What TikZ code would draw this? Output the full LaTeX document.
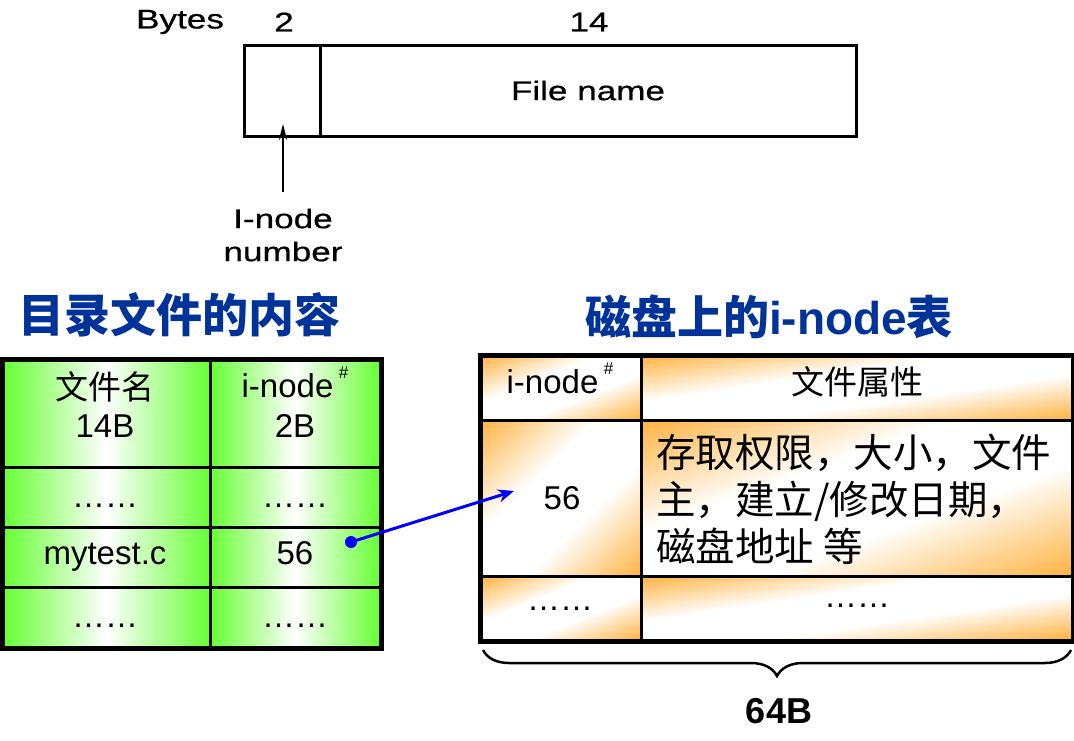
\documentclass[tikz,border=0pt]{standalone}
\usepackage{fontspec}
\setmainfont{Liberation Sans}
\newfontfamily\cjk{Noto Sans CJK SC}
\newfontfamily\scanf[FakeStretch=1.3,FakeBold=0.6]{Liberation Sans}
\usetikzlibrary{arrows.meta,decorations.pathreplacing}
\definecolor{gr}{RGB}{102,255,51}
\definecolor{orn}{RGB}{255,153,0}
\definecolor{ttl}{RGB}{0,51,153}
\definecolor{arr}{RGB}{0,0,255}
\pgfdeclareverticalshading{orncell}{100bp}{color(0bp)=(orn); color(6bp)=(orn); color(40bp)=(white); color(60bp)=(white); color(94bp)=(orn); color(100bp)=(orn)}
\newcommand\fsz[2]{\fontsize{#1}{#2}\selectfont}
\newcommand\ihash{i-node\,\raisebox{0.55em}{\fsz{17}{17}\#}}
\newcommand\dotsrow{\smash{\raisebox{-7pt}{……}}}
% orange diagonal shading of a cell given by x0,y0,x1,y1 (y downwards)
\newcommand\oshade[4]{\begin{scope}[transform canvas={shift={(#1,#4)},xscale={(#3-#1)/100},yscale={(#4-#2)/100}}]
  \shade[shading=orncell,shading angle=45] (0pt,0pt) rectangle (100pt,100pt);\end{scope}}
\begin{document}
\begin{tikzpicture}[x=1pt,y=-1pt,
  topcell/.style={draw,line width=3pt,minimum height=91pt,inner sep=0pt},
  scan/.style={font=\scanf\fsz{27}{33},align=center,inner sep=0pt},
  gcell/.style={draw,line width=3pt,left color=gr,right color=gr,middle color=white,inner sep=0pt},
  ocell/.style={draw,line width=3pt,inner sep=0pt},
  txt/.style={font=\fsz{33}{40},inner sep=0pt},
  ctxt/.style={font=\cjk\fsz{33}{40},inner sep=0pt},
  ttlnode/.style={text=ttl,font=\cjk\bfseries\fsz{46}{50},inner sep=0pt},
  link/.style={draw=arr,line width=3pt,-{Stealth[length=16pt,width=13pt]}},
]
\useasboundingbox (0,0) rectangle (1074,740);
% ---------- top: directory entry layout ----------
\node[topcell,minimum width=76pt] (inum) at (282,90.5) {};
\node[topcell,minimum width=536pt,scan] (fname) at (588,90.5) {File name};
\node[scan] (bytes) at (180,22) {Bytes};
\node[scan] (b2) at (284,22) {2};
\node[scan] (b14) at (589,22) {14};
\node[scan] (inlbl) at (283,235) {I-node\\number};
\coordinate (arS) at (283,192);
\coordinate (arT) at (283,124);
\draw[line width=1.8pt,-{Stealth[length=16pt,width=8pt]}] (arS) -- (arT);
% ---------- titles ----------
\node[ttlnode] (t1) at (180,315) {目录文件的内容};
\node[ttlnode] (t2) at (769,317) {磁盘上的{\rmfamily i-node}表};
% ---------- left table ----------
\node[gcell,minimum width=207pt,minimum height=107pt] (l11) at (106.5,413.5) {};
\node[gcell,minimum width=170pt,minimum height=107pt] (l12) at (295,413.5) {};
\node[gcell,minimum width=207pt,minimum height=60pt] (l21) at (106.5,497) {};
\node[gcell,minimum width=170pt,minimum height=60pt] (l22) at (295,497) {};
\node[gcell,minimum width=207pt,minimum height=60pt] (l31) at (106.5,557) {};
\node[gcell,minimum width=170pt,minimum height=60pt] (l32) at (295,557) {};
\node[gcell,minimum width=207pt,minimum height=60pt] (l41) at (106.5,617) {};
\node[gcell,minimum width=170pt,minimum height=60pt] (l42) at (295,617) {};
\draw[line width=4pt] (l11.north west) rectangle (l42.south east);
\node[ctxt] (fnm) at (105,387) {文件名};
\node[txt,anchor=base] (fnb) at (105,437) {14B};
\node[txt,anchor=base] (inh) at (295,397) {\ihash};
\node[txt,anchor=base] (inb) at (295,437) {2B};
\node[txt,anchor=base] (d21) at (105,500) {\dotsrow};
\node[txt,anchor=base] (d22) at (295,500) {\dotsrow};
\node[txt,anchor=base] (myt) at (105,564) {mytest.c};
\node[txt,anchor=base] (n56) at (295,564) {56};
\node[txt,anchor=base] (d41) at (105,620) {\dotsrow};
\node[txt,anchor=base] (d42) at (295,620) {\dotsrow};
% ---------- right table ----------
\oshade{481}{356}{641}{420}
\oshade{641}{356}{1072}{420}
\oshade{481}{420}{641}{576}
\oshade{641}{420}{1072}{576}
\oshade{481}{576}{641}{640}
\oshade{641}{576}{1072}{640}
\node[ocell,minimum width=160pt,minimum height=64pt] (r11) at (561,388) {};
\node[ocell,minimum width=431pt,minimum height=64pt] (r12) at (856.5,388) {};
\node[ocell,minimum width=160pt,minimum height=156pt] (r21) at (561,498) {};
\node[ocell,minimum width=431pt,minimum height=156pt] (r22) at (856.5,498) {};
\node[ocell,minimum width=160pt,minimum height=64pt] (r31) at (561,608) {};
\node[ocell,minimum width=431pt,minimum height=64pt] (r32) at (856.5,608) {};
\draw[line width=4pt] (r11.north west) rectangle (r32.south east);
\node[txt,anchor=base] (rih) at (560,393) {\ihash};
\node[ctxt] (rat) at (857,382) {文件属性};
\node[txt,anchor=base] (r56) at (562,509) {56};
\node[anchor=west,align=left,inner sep=0pt,font=\cjk\fsz{39.5}{47}] (attrs) at (656,499)
  {存取权限，大小，文件\\主，建立/修改日期，\\磁盘地址 等};
\node[txt,anchor=base] (d31) at (560,603) {\dotsrow};
\node[txt,anchor=base] (d32) at (857,600) {\dotsrow};
% ---------- link ----------
\coordinate (src) at (351,542);
\coordinate (dst) at (514,491);
\fill[arr] (src) circle (6pt);
\draw[link] (src) -- (dst);
% ---------- brace ----------
\coordinate (bl) at (483,650);
\coordinate (br) at (1071,650);
\draw[line width=2.5pt,decorate,decoration={brace,mirror,amplitude=26pt}] (bl) -- (br);
\node[font=\bfseries\fsz{36}{40},inner sep=0pt] (size) at (779,711) {64B};
\end{tikzpicture}
\end{document}
